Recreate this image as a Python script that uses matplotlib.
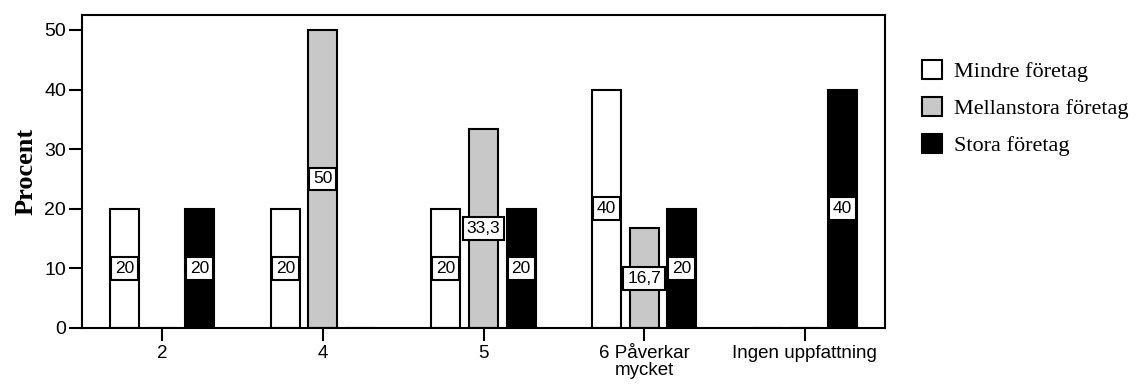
import matplotlib
matplotlib.use('Agg')
import matplotlib.pyplot as plt
import numpy as np

# data
categories = ['2', '4', '5', '6 Påverkar\nmycket', 'Ingen uppfattning']
series = ['Mindre företag', 'Mellanstora företag', 'Stora företag']
mindre = [20, 20, 20, 40, 0]
mellan = [0, 50, 33.3, 16.7, 0]
stora = [20, 0, 20, 20, 40]
values = [mindre, mellan, stora]
colors = ['white', '#c8c8c8', 'black']

plt.rcParams['font.family'] = ['Liberation Sans', 'DejaVu Sans']

fig = plt.figure(figsize=(11.37, 3.9), dpi=100)
ax = fig.add_axes([0.0721, 0.159, 0.7063, 0.8025])

x = np.arange(len(categories))
offset = 0.234
width = 0.18

for i, (vals, col) in enumerate(zip(values, colors)):
    pos = x + (i - 1) * offset
    ax.bar(pos, vals, width, color=col, edgecolor='black', linewidth=1.5,
           label=series[i], zorder=2)
    for p, v in zip(pos, vals):
        if v == 0:
            continue
        txt = f'{v:g}'.replace('.', ',')
        ax.text(p, v / 2, txt, ha='center', va='center', fontsize=12.5, zorder=3,
                bbox=dict(boxstyle='square,pad=0.22', fc='white', ec='black', lw=1.5))

ax.set_xlim(-0.5, len(categories) - 0.5)
ax.set_ylim(0, 52.5)
ax.set_yticks([0, 10, 20, 30, 40, 50])
ax.set_xticks(x)
ax.set_xticklabels(categories, fontsize=13.5, linespacing=1.0)
ax.tick_params(axis='y', labelsize=14, length=9.5, width=1.5, pad=2)
ax.tick_params(axis='x', length=9.5, width=1.5, pad=3)
for s in ax.spines.values():
    s.set_linewidth(1.5)

ax.set_ylabel('Procent', fontsize=19, fontweight='bold', family='Liberation Serif', labelpad=5)

ax.legend(loc='upper left', bbox_to_anchor=(1.046, 0.855), frameon=False,
          prop={'family': 'Liberation Serif', 'size': 16},
          handlelength=0.9, handleheight=0.9, handletextpad=0.55, labelspacing=0.68,
          borderaxespad=0, borderpad=0)

plt.savefig('out.png', dpi=100)
plt.close()
